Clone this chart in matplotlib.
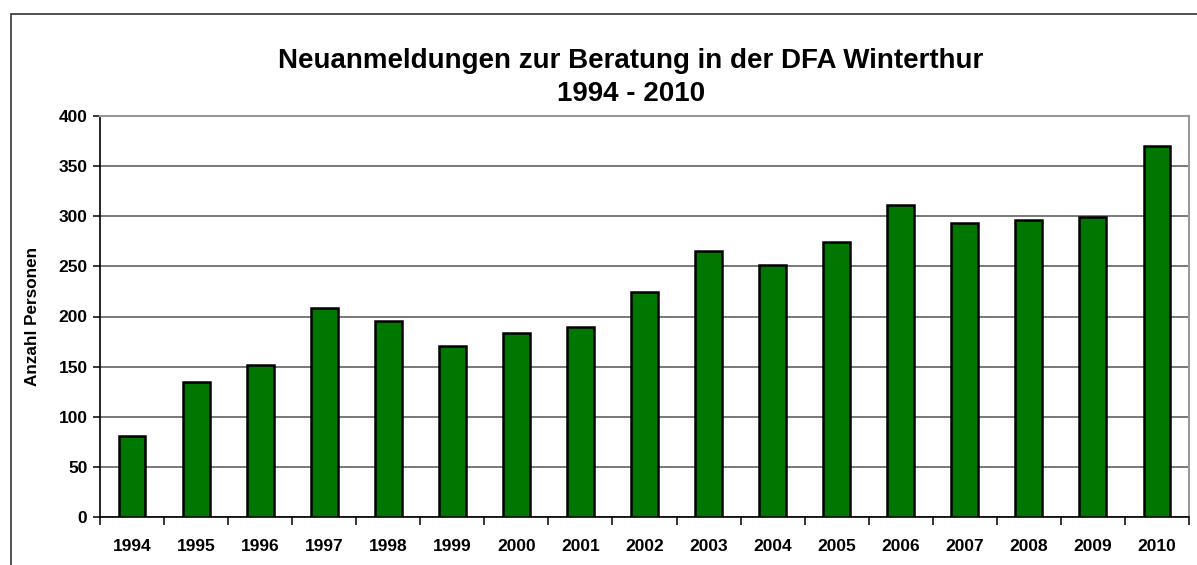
import matplotlib
matplotlib.use("Agg")
import matplotlib.pyplot as plt
import matplotlib.patches as patches
import numpy as np

# data
years = ["1994", "1995", "1996", "1997", "1998", "1999", "2000", "2001", "2002",
         "2003", "2004", "2005", "2006", "2007", "2008", "2009", "2010"]
counts = [81, 135, 152, 208, 196, 171, 184, 190, 224, 265, 251, 274, 311, 293, 296, 299, 370]
y_ticks = [0, 50, 100, 150, 200, 250, 300, 350, 400]

plt.rcParams["font.family"] = ["Liberation Sans", "DejaVu Sans"]

fig = plt.figure(figsize=(11.97, 5.65), dpi=100)

# outer chart frame
fig.patches.append(patches.Rectangle((11 / 1197, -0.1), 1.2, (565 - 14) / 565 + 0.1,
                                     transform=fig.transFigure, fill=False,
                                     edgecolor="#333333", linewidth=1.2))

ax = fig.add_axes([100 / 1197, 48 / 565, 1089 / 1197, 401 / 565])

x = np.arange(len(years))
ax.bar(x, counts, width=0.42, color="#007800", edgecolor="black", linewidth=1.8, zorder=3)

ax.set_xlim(-0.5, len(years) - 0.5)
ax.set_ylim(0, 400)
ax.set_yticks(y_ticks)
ax.set_yticklabels([str(v) for v in y_ticks], fontsize=12.5, fontweight="bold")
ax.yaxis.grid(True, color="#555555", linewidth=1.1, zorder=0)

# years as labels in the middle, tick marks between the categories
ax.set_xticks(np.arange(len(years) + 1) - 0.5)
ax.set_xticklabels([])
ax.set_xticks(x, minor=True)
ax.set_xticklabels(years, minor=True, fontsize=12.5, fontweight="bold")
ax.tick_params(axis="x", which="minor", length=0, pad=16)
ax.tick_params(axis="x", which="major", length=6, width=1.1)
ax.tick_params(axis="y", length=5, width=1.1, pad=4)

for side in ["top", "right"]:
    ax.spines[side].set_color("#999999")
    ax.spines[side].set_linewidth(1.5)
for side in ["left", "bottom"]:
    ax.spines[side].set_color("black")
    ax.spines[side].set_linewidth(1.2)

ax.set_ylabel("Anzahl Personen", fontsize=12.3, fontweight="bold", labelpad=13)

fig.text(0.527, 0.863, "Neuanmeldungen zur Beratung in der DFA Winterthur\n1994 - 2010",
         ha="center", va="center", fontsize=20, fontweight="bold", linespacing=1.35)

fig.savefig("out.png", dpi=100)
